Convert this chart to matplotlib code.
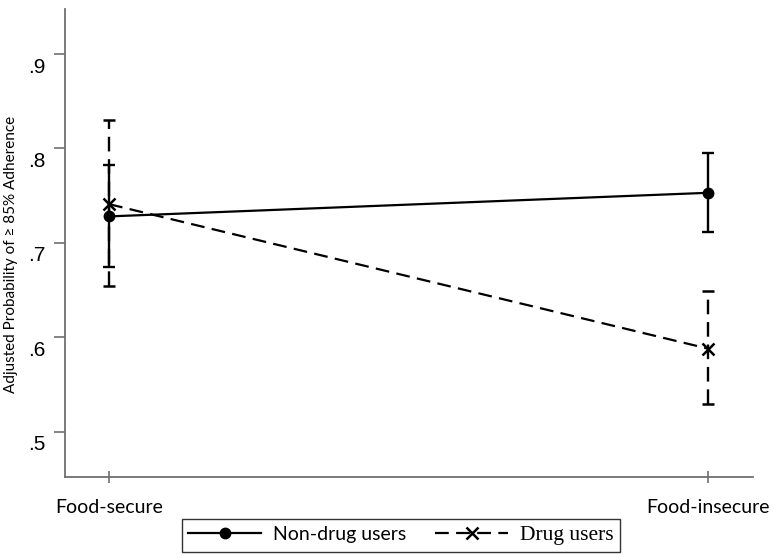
import numpy as np
import matplotlib
matplotlib.use('Agg')
import matplotlib.pyplot as plt
import matplotlib.transforms as mtransforms
from matplotlib.lines import Line2D
from matplotlib.font_manager import FontProperties

groups = ['Food-secure', 'Food-insecure']
series = ['Non-drug users', 'Drug users']

nondrug = [0.728, 0.753]
nondrug_lo = [0.674, 0.712]
nondrug_hi = [0.782, 0.795]

drug = [0.741, 0.588]
drug_lo = [0.654, 0.529]
drug_hi = [0.830, 0.649]

yticks = [0.5, 0.6, 0.7, 0.8, 0.9]
yticklabels = ['.5', '.6', '.7', '.8', '.9']

fig = plt.figure(figsize=(7.74, 5.58), dpi=100)
ax = fig.add_axes([65/774, 1 - 476.5/558, (752.7 - 65)/774, (476.5 - 9)/558])

x = np.arange(len(groups))
dash = (6.2, 3.3)

nd = np.array(nondrug)
ax.errorbar(x, nd, yerr=[nd - np.array(nondrug_lo), np.array(nondrug_hi) - nd],
            color='black', lw=1.6, elinewidth=1.7, capsize=4.5, capthick=1.7,
            marker='o', ms=7.5, zorder=3)

dd = np.array(drug)
e2 = ax.errorbar(x, dd, yerr=[dd - np.array(drug_lo), np.array(drug_hi) - dd],
                 color='black', lw=1.6, elinewidth=1.7, capsize=4.5, capthick=1.7,
                 marker='x', ms=8, mew=1.8, zorder=3)
e2[0].set_dashes(dash)
e2[2][0].set_linestyle((0, dash))

ax.set_xlim(-0.0735, 1.075)
ax.set_ylim(0.4525, 0.9477)
ax.set_yticks(yticks)
ax.set_yticklabels(yticklabels, fontfamily='Liberation Sans', fontsize=15)
ax.set_xticks(x)
ax.set_xticklabels(groups, fontfamily=['Lato', 'DejaVu Sans'], fontsize=14)

for s in ['top', 'right']:
    ax.spines[s].set_visible(False)
for s in ['left', 'bottom']:
    ax.spines[s].set_color('#707070')
    ax.spines[s].set_linewidth(1.3)

ax.tick_params(axis='y', direction='out', length=8, width=1.2, color='#707070', pad=6)
ax.tick_params(axis='x', direction='inout', length=9, width=1.2, color='#707070', pad=12)

# y tick labels sit a bit below their ticks in the original
off = mtransforms.ScaledTranslation(0, -11/100, fig.dpi_scale_trans)
for lab in ax.get_yticklabels():
    lab.set_transform(lab.get_transform() + off)

ax.set_ylabel('Adjusted Probability of \u2265 85% Adherence',
              fontfamily=['Lato', 'DejaVu Sans'], fontsize=11)
ax.yaxis.set_label_coords(-0.068, 0.475)

h1 = Line2D([], [], color='black', lw=1.6, marker='o', ms=7.5)
h2 = Line2D([], [], color='black', lw=1.6, marker='x', ms=8, mew=1.8, dashes=dash)
leg = fig.legend(handles=[h1, h2], labels=series, ncol=2, loc='center',
                 bbox_to_anchor=(401/774, 1 - 535.5/558),
                 frameon=True, fancybox=False, edgecolor='black',
                 handlelength=3.75, handletextpad=0.6, columnspacing=1.5,
                 borderpad=0.35, borderaxespad=0,
                 prop={'family': ['Lato', 'DejaVu Sans'], 'size': 14})
leg.get_frame().set_linewidth(1.0)
leg.get_texts()[1].set_fontproperties(
    FontProperties(family=['Liberation Serif', 'DejaVu Serif'], size=15.5))

fig.savefig('out.png', dpi=100)
